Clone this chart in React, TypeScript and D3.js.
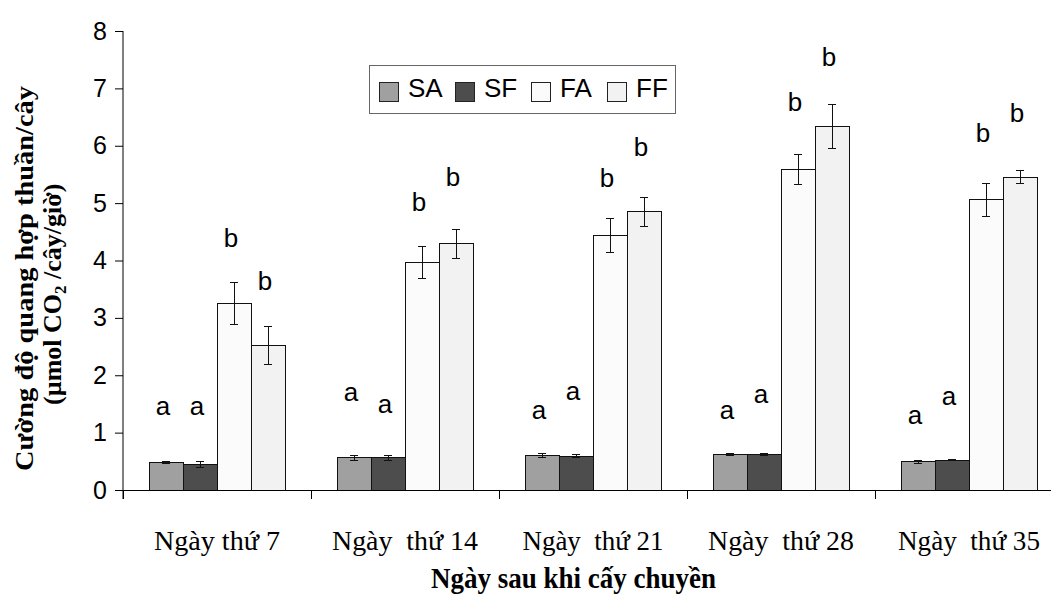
import React, { useEffect, useRef } from "react";
import * as d3 from "d3";

// categories on the x axis (double space kept as in the original)
const categories = ["Ngày thứ 7", "Ngày  thứ 14", "Ngày  thứ 21", "Ngày  thứ 28", "Ngày  thứ 35"];
const seriesNames = ["SA", "SF", "FA", "FF"];

// mean values per series
const saValues = [0.48, 0.56, 0.6, 0.62, 0.49];
const sfValues = [0.45, 0.56, 0.59, 0.62, 0.52];
const faValues = [3.25, 3.97, 4.44, 5.59, 5.06];
const ffValues = [2.52, 4.29, 4.85, 6.34, 5.45];

// error bar half-lengths
const saErrors = [0.02, 0.04, 0.04, 0.01, 0.03];
const sfErrors = [0.05, 0.04, 0.03, 0.02, 0.01];
const faErrors = [0.37, 0.28, 0.3, 0.26, 0.29];
const ffErrors = [0.33, 0.25, 0.25, 0.38, 0.11];

// significance letters and the height (in data units) they sit at
const seriesLetters = ["a", "a", "b", "b"];
const saLetterAt = [1.43, 1.67, 1.36, 1.36, 1.28];
const sfLetterAt = [1.43, 1.46, 1.69, 1.63, 1.6];
const faLetterAt = [4.39, 5.02, 5.43, 6.77, 6.22];
const ffLetterAt = [3.64, 5.45, 5.98, 7.55, 6.57];

const yTicks = [0, 1, 2, 3, 4, 5, 6, 7, 8];
const labelWidths = [126, 146, 141, 146, 142];

const colors = ["#a0a0a0", "#4d4d4d", "#fbfbfb", "#f2f2f2"];

const W = 1051;
const H = 596;
const SANS = "'Liberation Sans', Arial, sans-serif";
const SERIF = "'Liberation Serif', 'Times New Roman', serif";

export default function App() {
  const yAxisRef = useRef<SVGGElement>(null);
  const xAxisRef = useRef<SVGGElement>(null);

  const plotLeft = 123;
  const plotRight = 1063; // last category runs past the picture edge
  const plotTop = 31;
  const plotBottom = 490;

  const y = d3.scaleLinear().domain([0, 8]).range([plotBottom, plotTop]);
  const x0 = d3.scaleBand<string>().domain(categories).range([plotLeft, plotRight]);
  const groupPad = (x0.bandwidth() - 136) / 2;
  const x1 = d3
    .scaleBand<string>()
    .domain(seriesNames)
    .range([groupPad, x0.bandwidth() - groupPad]);
  const xEdges = d3.scaleLinear().domain([0, categories.length]).range([plotLeft, plotRight]);

  const values = [saValues, sfValues, faValues, ffValues];
  const errors = [saErrors, sfErrors, faErrors, ffErrors];
  const letterAt = [saLetterAt, sfLetterAt, faLetterAt, ffLetterAt];

  useEffect(() => {
    document.body.style.margin = "0";

    const ya = d3.select(yAxisRef.current);
    ya.selectAll("*").remove();
    ya.call(
      d3.axisLeft(y).tickValues(yTicks).tickSize(8).tickSizeOuter(0).tickPadding(8).tickFormat(d3.format("d"))
    );
    ya.select(".domain").attr("stroke", "#000").attr("d", `M0,${y(8)}V${plotBottom + 9}`);
    ya.selectAll(".tick line").attr("stroke", "#000");
    ya.selectAll(".tick text")
      .attr("font-family", SANS)
      .attr("font-size", 25)
      .attr("fill", "#000");

    const xa = d3.select(xAxisRef.current);
    xa.selectAll("*").remove();
    xa.call(
      d3
        .axisBottom(xEdges)
        .tickValues(d3.range(categories.length + 1))
        .tickSize(9)
        .tickSizeOuter(0)
        .tickFormat(() => "")
    );
    xa.select(".domain").attr("stroke", "#000");
    xa.selectAll(".tick line").attr("stroke", "#000");
  }, []);

  return (
    <svg
      width={W}
      height={H}
      viewBox={`0 0 ${W} ${H}`}
      style={{ display: "block", position: "absolute", left: 0, top: 0, background: "#fff" }}
    >
      <rect width={W} height={H} fill="#fff" />

      {/* bars */}
      {categories.map((cat, ci) => (
        <g key={cat} transform={`translate(${x0(cat)},0)`}>
          {seriesNames.map((s, si) => {
            const v = values[si][ci];
            const bx = x1(s)!;
            return (
              <rect
                key={s}
                x={bx}
                y={y(v)}
                width={x1.bandwidth()}
                height={y(0) - y(v)}
                fill={colors[si]}
                stroke="#111"
                strokeWidth={1}
                shapeRendering="crispEdges"
              />
            );
          })}
        </g>
      ))}

      {/* error bars */}
      {categories.map((cat, ci) => (
        <g key={cat + "-err"} transform={`translate(${x0(cat)},0)`} stroke="#111" strokeWidth={1}>
          {seriesNames.map((s, si) => {
            const v = values[si][ci];
            const e = errors[si][ci];
            const cx = x1(s)! + x1.bandwidth() / 2;
            return (
              <g key={s} shapeRendering="crispEdges">
                <line x1={cx} x2={cx} y1={y(v + e)} y2={y(v - e)} />
                <line x1={cx - 4} x2={cx + 4} y1={y(v + e)} y2={y(v + e)} />
                <line x1={cx - 4} x2={cx + 4} y1={y(v - e)} y2={y(v - e)} />
              </g>
            );
          })}
        </g>
      ))}

      {/* significance letters */}
      {categories.map((cat, ci) => (
        <g key={cat + "-let"} transform={`translate(${x0(cat)},0)`}>
          {seriesNames.map((s, si) => {
            const letter = seriesLetters[si];
            const cx = x1(s)! + x1.bandwidth() / 2 - 3;
            return (
              <text
                key={s}
                x={cx}
                y={y(letterAt[si][ci]) + (letter === "a" ? 7 : 9)}
                textAnchor="middle"
                fontFamily={SANS}
                fontSize={26}
                fill="#000"
              >
                {letter}
              </text>
            );
          })}
        </g>
      ))}

      <g ref={yAxisRef} transform={`translate(${plotLeft},0)`} />
      <g ref={xAxisRef} transform={`translate(0,${plotBottom})`} />

      {/* category labels */}
      {categories.map((cat, ci) => (
        <text
          key={cat + "-lab"}
          x={x0(cat)! + x0.bandwidth() / 2 - labelWidths[ci] / 2}
          y={550}
          fontFamily={SERIF}
          fontSize={28}
          textLength={labelWidths[ci]}
          lengthAdjust="spacingAndGlyphs"
          style={{ whiteSpace: "pre" }}
          fill="#000"
        >
          {cat}
        </text>
      ))}

      {/* x title */}
      <text
        x={573 - 142}
        y={588}
        fontFamily={SERIF}
        fontWeight="bold"
        fontSize={29}
        textLength={285}
        lengthAdjust="spacingAndGlyphs"
        fill="#000"
      >
        Ngày sau khi cấy chuyền
      </text>

      {/* y title */}
      <g transform={`translate(33,${279}) rotate(-90)`}>
        <text
          x={-192}
          y={0}
          fontFamily={SERIF}
          fontWeight="bold"
          fontSize={26}
          textLength={385}
          lengthAdjust="spacingAndGlyphs"
          fill="#000"
        >
          Cường độ quang hợp thuần/cây
        </text>
      </g>
      <g transform={`translate(61,${290}) rotate(-90)`}>
        <text
          x={-115}
          y={0}
          fontFamily={SERIF}
          fontWeight="bold"
          fontSize={26}
          fill="#000"
          style={{ whiteSpace: "pre" }}
        >
          (µmol CO
          <tspan fontSize={17} dy={5}>2</tspan>
          <tspan dy={-5}> /cây/giờ)</tspan>
        </text>
      </g>

      {/* legend */}
      <g>
        <rect x={369} y={65} width={306} height={48} fill="#fff" stroke="#666" strokeWidth={1} shapeRendering="crispEdges" />
        {seriesNames.map((s, si) => (
          <g key={s + "-leg"} transform={`translate(${379 + si * 76},0)`}>
            <rect x={0} y={82} width={19} height={19} fill={colors[si]} stroke="#222" shapeRendering="crispEdges" />
            <text x={29} y={97} fontFamily={SANS} fontSize={26} fill="#000">
              {s}
            </text>
          </g>
        ))}
      </g>
    </svg>
  );
}
